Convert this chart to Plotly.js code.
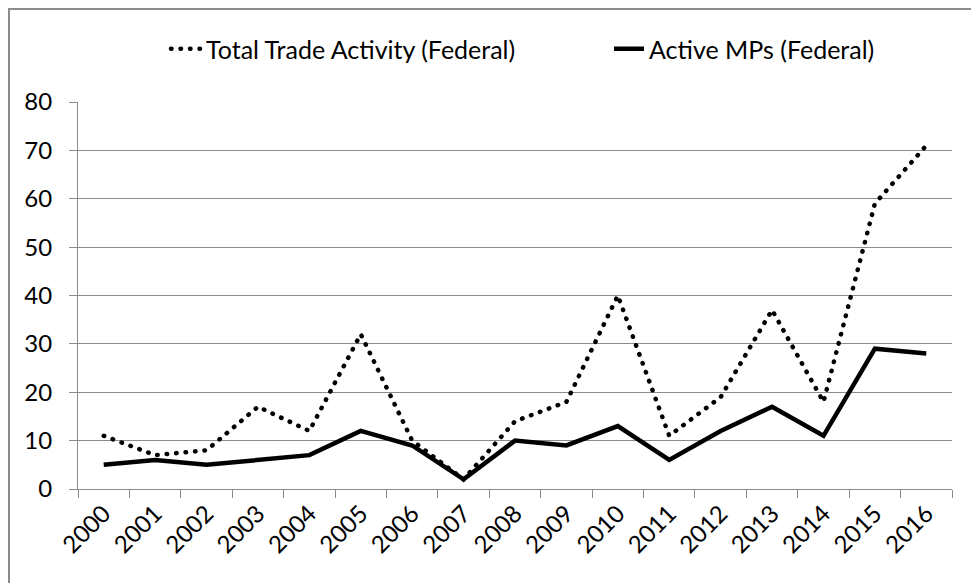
<!DOCTYPE html>
<html>
<head>
<meta charset="utf-8">
<script src="https://cdn.plot.ly/plotly-3.0.1.min.js"></script>
<style>
html, body { margin: 0; padding: 0; background: #fff; overflow: hidden; }
#frame { position: absolute; left: 8px; top: 8px; width: 1000px; height: 620px; border: 2px solid #8c8c8c; box-sizing: border-box; }
#chart { position: absolute; left: 0; top: 0; width: 971px; height: 583px; }
path.js-line[style*="dasharray: 0.5px"] { stroke-linecap: round; }
</style>
</head>
<body>
<div id="frame"></div>
<div id="chart"></div>
<script>
const years = ["2000","2001","2002","2003","2004","2005","2006","2007","2008","2009","2010","2011","2012","2013","2014","2015","2016"];
const totalTrade = [11, 7, 8, 17, 12, 32, 10, 2, 14, 18, 40, 11, 19, 37, 18, 59, 71];
const activeMPs = [5, 6, 5, 6, 7, 12, 9, 2, 10, 9, 13, 6, 12, 17, 11, 29, 28];
const seriesNames = ["Total Trade Activity (Federal)", "Active MPs (Federal)"];

const FONT = "Lato, 'Open Sans', sans-serif";

const traces = [
  { x: years, y: totalTrade, name: seriesNames[0], type: 'scatter', mode: 'lines', legend: 'legend',
    line: { color: '#000', width: 4.5, dash: '0.5px,9px' } },
  { x: years, y: activeMPs, name: seriesNames[1], type: 'scatter', mode: 'lines', legend: 'legend2',
    line: { color: '#000', width: 4.5 } }
];

const legendBase = { orientation: 'h', xref: 'container', xanchor: 'left',
                     yref: 'container', y: 1 - 49/583, yanchor: 'middle',
                     font: { size: 25 }, bgcolor: 'rgba(0,0,0,0)' };

const layout = {
  width: 971, height: 583,
  paper_bgcolor: 'rgba(0,0,0,0)', plot_bgcolor: 'rgba(0,0,0,0)',
  margin: { l: 78, r: 19, t: 102, b: 94 },
  font: { family: FONT, size: 24, color: '#000' },
  showlegend: true,
  legend: Object.assign({}, legendBase, { x: 166/971 }),
  legend2: Object.assign({}, legendBase, { x: 609/971 }),
  xaxis: { type: 'category', range: [-0.5, 16.5], tickson: 'boundaries', ticks: 'outside', ticklen: 8,
           tickcolor: '#8c8c8c', showline: true, linecolor: '#8c8c8c', linewidth: 1, showgrid: false,
           tickangle: -45, zeroline: false, fixedrange: true },
  yaxis: { range: [0, 80], dtick: 10, tick0: 0, ticks: 'outside', ticklen: 8, tickcolor: '#8c8c8c',
           showline: true, linecolor: '#8c8c8c', linewidth: 1, showgrid: true, gridcolor: '#8c8c8c',
           gridwidth: 1, zeroline: false, ticklabelstandoff: 12, fixedrange: true }
};

Plotly.newPlot('chart', traces, layout, { displayModeBar: false, staticPlot: true });
</script>
</body>
</html>
